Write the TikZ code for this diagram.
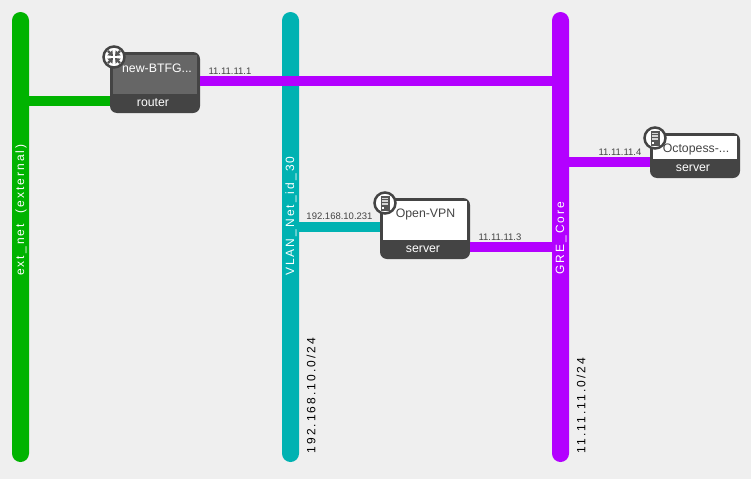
\documentclass[tikz,border=0pt]{standalone}
\usepackage{fontspec}
\setmainfont{Liberation Sans}
\usetikzlibrary{arrows.meta}

\definecolor{pagegray}{HTML}{EFEFEF}
\definecolor{extgreen}{HTML}{00B300}
\definecolor{vlanteal}{HTML}{00B2B2}
\definecolor{grepurple}{HTML}{B300FF}
\definecolor{boxdark}{HTML}{444444}
\definecolor{routerface}{HTML}{666666}
\definecolor{icongray}{HTML}{555555}

\tikzset{
    netbar/.style={rectangle, rounded corners=8.5pt, minimum width=17pt, minimum height=450pt, inner sep=0pt},
    nettext/.style={rotate=90, anchor=west, inner sep=0pt, font=\fontsize{12}{12}\selectfont\addfontfeature{LetterSpace=17}},
    wire/.style={line width=10pt},
    devbox/.style={fill=boxdark, rounded corners=7pt, minimum width=90pt, inner sep=0pt},
    devface/.style={minimum width=84pt, inner sep=0pt},
    devtext/.style={inner sep=0pt, font=\fontsize{12.3}{12.3}\selectfont},
    iptext/.style={inner sep=0pt, text=boxdark, font=\fontsize{9.5}{9.5}\selectfont},
    badge/.style={circle, draw=boxdark, line width=2.5pt, fill=white, minimum size=21pt, inner sep=0pt},
    tower/.style={fill=icongray, minimum width=9pt, minimum height=15pt, inner sep=0pt},
}

\begin{document}
\begin{tikzpicture}[x=1pt, y=-1pt]
    \useasboundingbox[fill=pagegray] (0,0) rectangle (751,479);

    % networks
    \node[netbar, fill=extgreen] (extnet) at (20.5,237) {};
    \node[netbar, fill=vlanteal] (vlannet) at (290.5,237) {};
    \node[netbar, fill=grepurple] (grenet) at (560.5,237) {};

    \node[nettext, text=white] (extname) at (21,276) {ext\_net \ (external)};
    \node[nettext, text=white] (vlanname) at (291,276) {VLAN\_Net\_id\_30};
    \node[nettext, text=white] (grename) at (561,275) {GRE\_Core};
    \node[nettext, text=black] (vlansubnet) at (311,453.5) {192.168.10.0/24};
    \node[nettext, text=black] (gresubnet) at (581,453.5) {11.11.11.0/24};

    % devices
    \node[devbox, minimum height=61pt] (router) at (155,82.5) {};
    \node[devface, fill=routerface, minimum height=39pt] (routerpanel) at (155,74.5) {};
    \node[devtext, text=white] (routername) at (157,68) {new-BTFG...};
    \node[devtext, text=white] (routertype) at (153,103) {router};

    \node[devbox, minimum height=61pt] (vpn) at (425,228.5) {};
    \node[devface, fill=white, minimum height=39pt] (vpnpanel) at (425,220.5) {};
    \node[devtext, text=boxdark] (vpnname) at (425.5,214.5) {Open-VPN};
    \node[devtext, text=white] (vpntype) at (423,249) {server};

    \node[devbox, minimum height=45pt] (octo) at (695,155.5) {};
    \node[devface, fill=white, minimum height=23pt] (octopanel) at (695,147.5) {};
    \node[devtext, text=boxdark] (octoname) at (696,149.5) {Octopess-...};
    \node[devtext, text=white] (octotype) at (693,168) {server};

    % links
    \coordinate (exty) at (0,101);
    \coordinate (routery) at (0,81);
    \coordinate (vlany) at (0,227);
    \coordinate (vpny) at (0,247);
    \coordinate (octoy) at (0,162);

    \draw[wire, extgreen] (extnet.east |- exty) -- (router.west |- exty);
    \draw[wire, grepurple] (router.east |- routery) -- (grenet.west |- routery);
    \draw[wire, vlanteal] (vlannet.east |- vlany) -- (vpn.west |- vlany);
    \draw[wire, grepurple] (vpn.east |- vpny) -- (grenet.west |- vpny);
    \draw[wire, grepurple] (grenet.east |- octoy) -- (octo.west |- octoy);

    \node[iptext] (routerip) at (230,71.5) {11.11.11.1};
    \node[iptext] (vlanip) at (339.5,216.5) {192.168.10.231};
    \node[iptext] (vpnip) at (500,237) {11.11.11.3};
    \node[iptext] (octoip) at (620,152) {11.11.11.4};

    % badges
    \node[badge] (routerbadge) at (114,57) {};
    \foreach \ang in {45,135,225,315} {
        \draw[icongray, line width=2.2pt, -{Triangle[length=4.5pt,width=7pt]}] (routerbadge.center) ++(\ang:8.5pt) -- ++(\ang:-7pt);
    }
    \foreach \name/\xpos/\ypos in {vpnbadge/385/203, octobadge/655/138} {
        \node[badge] (\name) at (\xpos,\ypos) {};
        \node[tower] (\name tower) at (\name) {};
        \fill[white!75!icongray] (\xpos-3,\ypos-5.5) rectangle (\xpos+3,\ypos-3.7);
        \fill[white!75!icongray] (\xpos-3,\ypos-2.7) rectangle (\xpos+3,\ypos-0.9);
        \fill[white!75!icongray] (\xpos-3,\ypos+0.1) rectangle (\xpos+3,\ypos+1.6);
        \fill[white] (\xpos-3,\ypos+3.8) rectangle (\xpos-1,\ypos+5.5);
    }
\end{tikzpicture}
\end{document}
